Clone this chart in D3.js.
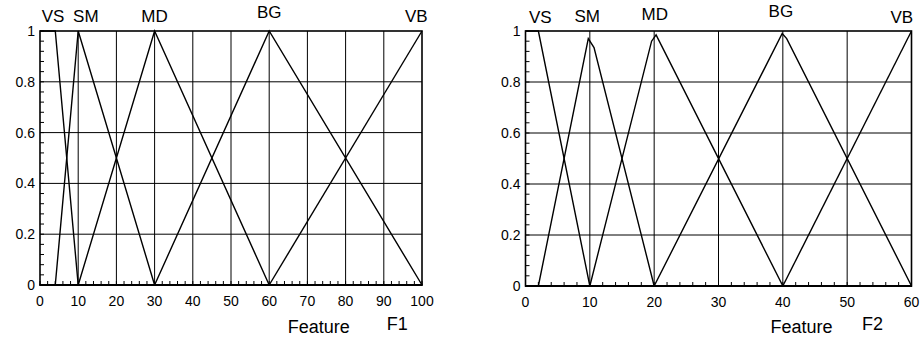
<!DOCTYPE html>
<html>
<head>
<meta charset="utf-8">
<script src="https://cdn.jsdelivr.net/npm/d3@7/dist/d3.min.js"></script>
<style>
	body { margin: 0; background: #fff; }
	svg { display: block; font-family: "Liberation Sans", Arial, Helvetica, sans-serif; fill: #000; }
	.grid line { stroke: #000; stroke-width: 1; }
	.minor line { stroke: #000; stroke-width: 1; }
	.frame { fill: none; stroke: #000; stroke-width: 1.6; }
	.mf path { fill: none; stroke: #000; stroke-width: 1.4; stroke-linejoin: miter; }
	.tick-label { font-size: 14px; }
	.set-label { font-size: 17px; }
	.axis-title { font-size: 18px; }
</style>
</head>
<body>
<svg id="chart" width="922" height="339"></svg>
<script>
(function(d3) {
	'use strict';

	/** data: feature F1 */
	var f1Sets = ['VS', 'SM', 'MD', 'BG', 'VB'];
	var f1LabelX = [3.4, 12, 30, 60, 98.5];
	var f1XTicks = [0, 10, 20, 30, 40, 50, 60, 70, 80, 90, 100];
	var f1VS = [[0, 1], [4, 1], [10, 0]];
	var f1SM = [[4, 0], [10, 1], [30, 0]];
	var f1MD = [[10, 0], [30, 1], [60, 0]];
	var f1BG = [[30, 0], [60, 1], [100, 0]];
	var f1VB = [[60, 0], [100, 1]];

	/** data: feature F2 */
	var f2Sets = ['VS', 'SM', 'MD', 'BG', 'VB'];
	var f2LabelX = [2.3, 9.6, 20.1, 39.7, 58.5];
	var f2XTicks = [0, 10, 20, 30, 40, 50, 60];
	var f2VS = [[0, 1], [2, 1], [10, 0]];
	var f2SM = [[2, 0], [9.76, 0.97], [10.65, 0.935], [20, 0]];
	var f2MD = [[10, 0], [19.6, 0.96], [20.3, 0.985], [40, 0]];
	var f2BG = [[20, 0], [39.9, 0.99], [40.6, 0.97], [60, 0]];
	var f2VB = [[40, 0], [60, 1]];

	var yTicks = [0, 0.2, 0.4, 0.6, 0.8, 1];

	var svg = d3.select('#chart');

	var Panel = function(opts) {
		var x = d3.scaleLinear().domain([0, opts.xMax]).range([opts.left, opts.right]);
		var y = d3.scaleLinear().domain([0, 1]).range([opts.bottom, opts.top]);
		var g = svg.append('g');

		/** grid */
		var grid = g.append('g').attr('class', 'grid');
		grid.selectAll('line.v').data(opts.xTicks.slice(1, -1)).enter().append('line')
			.attr('class', 'v')
			.attr('x1', x).attr('x2', x)
			.attr('y1', y(0)).attr('y2', y(1));
		grid.selectAll('line.h').data(yTicks.slice(1, -1)).enter().append('line')
			.attr('class', 'h')
			.attr('x1', x(0)).attr('x2', x(opts.xMax))
			.attr('y1', y).attr('y2', y);

		/** minor ticks, pointing inwards */
		var minor = g.append('g').attr('class', 'minor');
		minor.selectAll('line.mx').data(d3.range(0, opts.xMax + 0.001, 2)).enter().append('line')
			.attr('class', 'mx')
			.attr('x1', x).attr('x2', x)
			.attr('y1', y(0)).attr('y2', y(0) - 4);
		minor.selectAll('line.my').data(d3.range(0, 1.0001, 0.04)).enter().append('line')
			.attr('class', 'my')
			.attr('x1', x(0)).attr('x2', x(0) + 4)
			.attr('y1', y).attr('y2', y);

		/** membership functions */
		var line = d3.line().x(function(d) { return x(d[0]); }).y(function(d) { return y(d[1]); });
		g.append('g').attr('class', 'mf').selectAll('path').data(opts.series).enter().append('path')
			.attr('d', line);

		/** frame */
		g.append('rect').attr('class', 'frame')
			.attr('x', x(0)).attr('y', y(1))
			.attr('width', x(opts.xMax) - x(0)).attr('height', y(0) - y(1));
		g.append('line')
			.attr('x1', x(0) - 0.5).attr('x2', x(opts.xMax) + 0.5)
			.attr('y1', y(0)).attr('y2', y(0))
			.attr('stroke', '#000').attr('stroke-width', 2);

		/** tick labels */
		g.selectAll('text.xt').data(opts.xTicks).enter().append('text')
			.attr('class', 'tick-label xt')
			.attr('x', x).attr('y', y(0) + 21)
			.attr('text-anchor', 'middle')
			.text(function(d) { return d; });
		g.selectAll('text.yt').data(yTicks).enter().append('text')
			.attr('class', 'tick-label yt')
			.attr('x', x(0) - 5).attr('y', y).attr('dy', '0.36em')
			.attr('text-anchor', 'end')
			.text(function(d) { return d3.format('~g')(d); });

		/** set names above the plot */
		g.selectAll('text.set').data(opts.sets).enter().append('text')
			.attr('class', 'set-label set')
			.attr('x', function(d, i) { return x(opts.labelX[i]); })
			.attr('y', function(d, i) { return opts.labelY[i]; })
			.attr('text-anchor', 'middle')
			.text(function(d) { return d; });

		/** axis titles */
		g.append('text').attr('class', 'axis-title')
			.attr('x', x(opts.titleX)).attr('y', 333)
			.attr('text-anchor', 'middle')
			.text('Feature');
		g.append('text').attr('class', 'axis-title')
			.attr('x', x(opts.nameX)).attr('y', 330)
			.text(opts.name);
		return this;
	};

	new Panel({
		left: 40, right: 422, top: 31, bottom: 285,
		xMax: 100, xTicks: f1XTicks,
		series: [f1VS, f1SM, f1MD, f1BG, f1VB],
		sets: f1Sets, labelX: f1LabelX, labelY: [22, 22, 22, 18, 22],
		titleX: 73, nameX: 90.8, name: 'F1'
	});

	new Panel({
		left: 525.5, right: 911.5, top: 31, bottom: 286,
		xMax: 60, xTicks: f2XTicks,
		series: [f2VS, f2SM, f2MD, f2BG, f2VB],
		sets: f2Sets, labelX: f2LabelX, labelY: [23, 22, 20, 17, 23],
		titleX: 42.9, nameX: 52.3, name: 'F2'
	});
})(d3);
</script>
</body>
</html>
